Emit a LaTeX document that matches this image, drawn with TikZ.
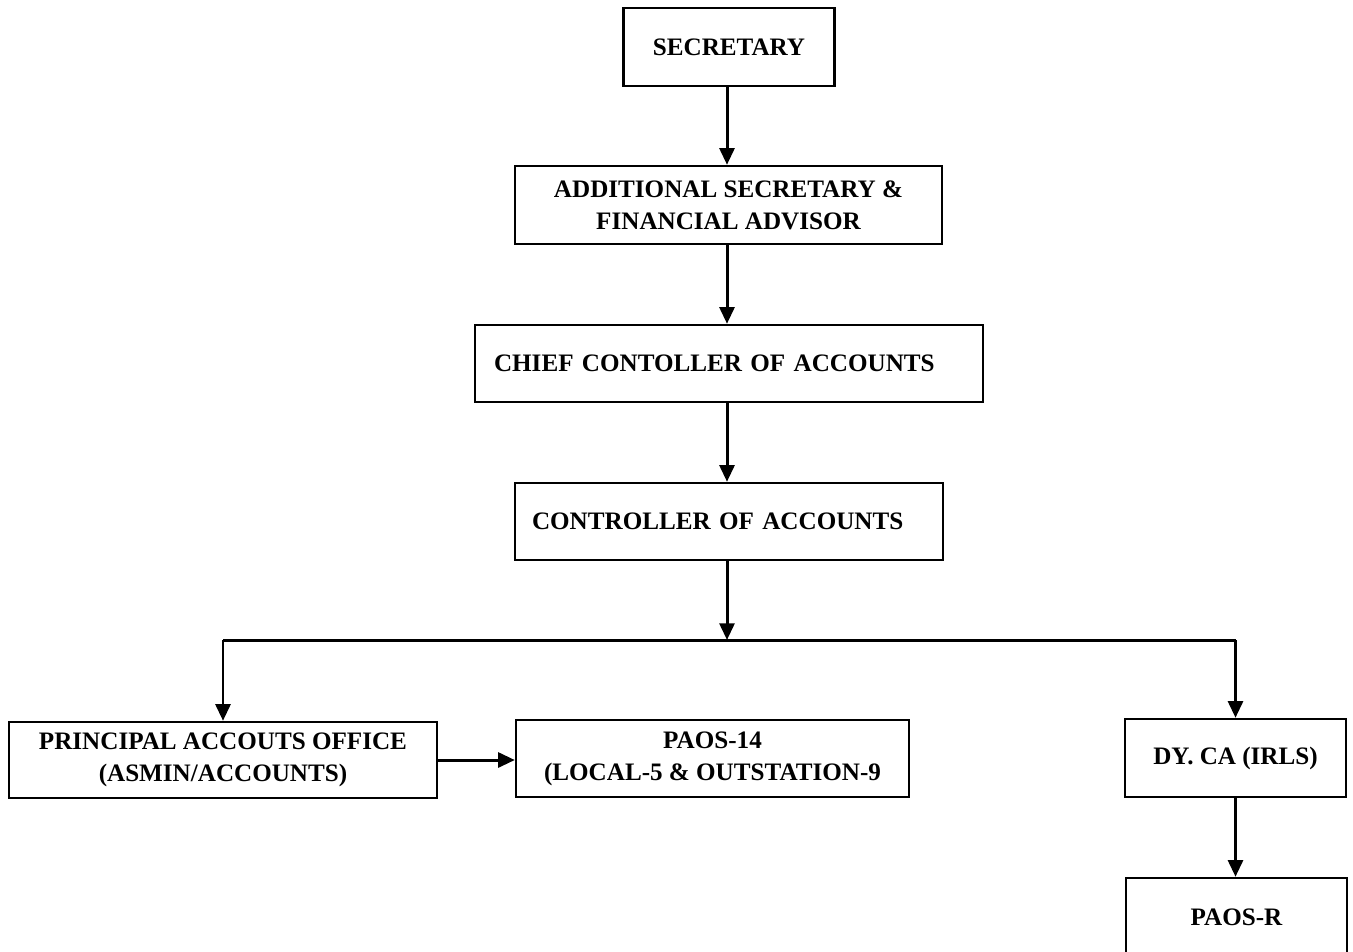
\documentclass[tikz,border=0pt]{standalone}
\usepackage{fontspec}
\setmainfont{Liberation Serif}
\usetikzlibrary{arrows.meta, positioning}

\begin{document}
\begin{tikzpicture}[
        x=0.02cm, y=-0.02cm,
        post/.style={draw=black, line width=1.4pt, fill=white,
                     font=\fontsize{14.3}{18.2}\selectfont\bfseries,
                     align=center, inner sep=2pt},
        arr/.style={-{Triangle[width=8.5pt,length=9.5pt]}, line width=1.7pt}
      ]
        \useasboundingbox (0,0) rectangle (1353,951);
        \node[post, minimum width=4.22cm, minimum height=1.56cm] (sec) at (729,47) {SECRETARY};
        \node[post, minimum width=8.54cm, minimum height=1.56cm] (asfa) at (728.5,205)
             {ADDITIONAL SECRETARY \&\\FINANCIAL ADVISOR};
        \node[post, minimum width=10.16cm, minimum height=1.54cm, inner xsep=0.38cm,
              text width=9.4cm, align=left] (cca) at (729,363.5) {CHIEF CONTOLLER OF ACCOUNTS};
        \node[post, minimum width=8.56cm, minimum height=1.54cm, inner xsep=0.34cm,
              text width=7.88cm, align=left] (ca) at (729,521.5) {CONTROLLER OF ACCOUNTS};
        \coordinate (split) at (727,640);
        \node[post, minimum width=8.56cm, minimum height=1.52cm] (pao) at (223,760)
             {PRINCIPAL ACCOUTS OFFICE\\(ASMIN/ACCOUNTS)};
        \node[post, minimum width=7.86cm, minimum height=1.54cm] (paos) at (712.5,758.5)
             {PAOS-14\\(LOCAL-5 \& OUTSTATION-9};
        \node[post, minimum width=4.42cm, minimum height=1.56cm] (dyca) at (1235.5,758) {DY. CA (IRLS)};
        \node[post, minimum width=4.42cm, minimum height=1.56cm] (paosr) at (1236.5,917) {PAOS-R};
        \draw[arr] (sec.south -| split)--(asfa.north -| split);
        \draw[arr] (asfa.south -| split)--(cca.north -| split);
        \draw[arr] (cca.south -| split)--(ca.north -| split);
        \draw[arr] (ca.south -| split)--(split);
        \draw[line width=1.7pt] (pao.north |- split)--(dyca.north |- split);
        \draw[arr] (pao.north |- split)--(pao.north);
        \draw[arr] (dyca.north |- split)--(dyca.north);
        \draw[arr] (pao.east)--(pao.east -| paos.west);
        \draw[arr] (dyca.south)--(dyca.south |- paosr.north);
      \end{tikzpicture}
\end{document}
